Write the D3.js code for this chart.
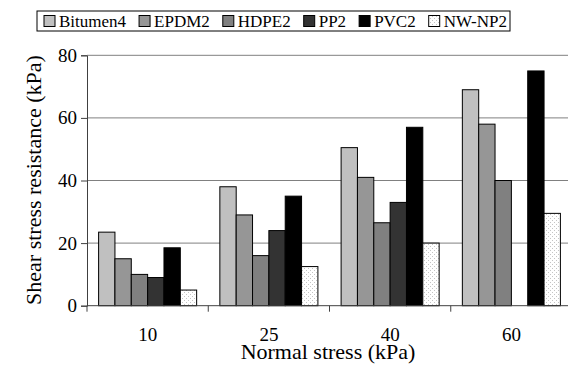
<!DOCTYPE html>
<html>
<head>
<meta charset="utf-8">
<script src="https://cdn.jsdelivr.net/npm/d3@7"></script>
<style>
  body { margin: 0; background: #fff; }
  svg { display: block; font-family: "Liberation Serif", "Times New Roman", serif; }
</style>
</head>
<body>
<svg id="chart" width="568" height="365"></svg>
<script>
// values
var categories = ['10', '25', '40', '60'];
var seriesNames = ['Bitumen4', 'EPDM2', 'HDPE2', 'PP2', 'PVC2', 'NW-NP2'];
var bitumen4 = [23.5, 38, 50.5, 69];
var epdm2 = [15, 29, 41, 58];
var hdpe2 = [10, 16, 26.5, 40];
var pp2 = [9, 24, 33, 0];
var pvc2 = [18.5, 35, 57, 75];
var nwnp2 = [5, 12.5, 20, 29.5];
var yTicks = [0, 20, 40, 60, 80];

var seriesValues = [bitumen4, epdm2, hdpe2, pp2, pvc2, nwnp2];
var fills = ['#c0c0c0', '#969696', '#808080', '#333333', '#000000', 'url(#dots)'];

var svg = d3.select('#chart');

// dotted fill used by NW-NP2
var pat = svg.append('defs').append('pattern')
    .attr('id', 'dots')
    .attr('patternUnits', 'userSpaceOnUse')
    .attr('width', 4)
    .attr('height', 4);
pat.append('rect').attr('width', 4).attr('height', 4).attr('fill', '#fff');
pat.append('rect').attr('x', 0).attr('y', 0).attr('width', 1).attr('height', 1).attr('fill', '#c4c4c4');
pat.append('rect').attr('x', 2).attr('y', 2).attr('width', 1).attr('height', 1).attr('fill', '#c4c4c4');

// plot box (right edge runs a little past the window, as in the reference)
var plotLeft = 87, plotRight = 572, plotTop = 55.3, plotBottom = 305.7;

var x = d3.scaleBand()
    .domain(categories)
    .range([plotLeft, plotRight])
    .padding(0);

var xSub = d3.scaleBand()
    .domain(seriesNames)
    .range([0, x.bandwidth()])
    .paddingInner(0)
    .paddingOuter(0.71);

var y = d3.scaleLinear()
    .domain([0, 80])
    .range([plotBottom, plotTop]);

// gridlines
svg.append('g')
    .selectAll('line')
    .data(yTicks.filter(function(d) { return d > 0; }))
  .enter().append('line')
    .attr('x1', plotLeft)
    .attr('x2', 568)
    .attr('y1', function(d) { return y(d); })
    .attr('y2', function(d) { return y(d); })
    .attr('stroke', '#808080')
    .attr('stroke-width', 1);

// bars
var groups = svg.append('g')
    .selectAll('g')
    .data(seriesNames)
  .enter().append('g')
    .attr('fill', function(d, i) { return fills[i]; });

groups.selectAll('rect')
    .data(function(d, i) {
      return seriesValues[i]
          .map(function(v, j) { return {s: d, c: categories[j], v: v}; })
          .filter(function(p) { return p.v > 0; });
    })
  .enter().append('rect')
    .attr('x', function(d) { return x(d.c) + xSub(d.s); })
    .attr('width', xSub.bandwidth())
    .attr('y', function(d) { return y(d.v); })
    .attr('height', function(d) { return y(0) - y(d.v); })
    .attr('stroke', '#000')
    .attr('stroke-width', 1);

// y axis
var yAxis = svg.append('g')
    .attr('transform', 'translate(' + plotLeft + ',0)')
    .call(d3.axisLeft(y).tickValues(yTicks).tickSize(6).tickPadding(4));
yAxis.select('.domain').attr('stroke', '#404040');
yAxis.selectAll('.tick line').attr('stroke', '#404040');
yAxis.selectAll('text')
    .attr('font-size', 19)
    .attr('font-family', '"Liberation Serif", serif')
    .attr('fill', '#000');

// x axis: ticks sit on category boundaries
var xAxis = svg.append('g')
    .attr('transform', 'translate(0,' + plotBottom + ')');
xAxis.append('line')
    .attr('x1', plotLeft).attr('x2', 568)
    .attr('y1', 0).attr('y2', 0)
    .attr('stroke', '#404040');
xAxis.selectAll('line.tk')
    .data(categories)
  .enter().append('line')
    .attr('class', 'tk')
    .attr('x1', function(d) { return x(d); })
    .attr('x2', function(d) { return x(d); })
    .attr('y1', 0).attr('y2', 6)
    .attr('stroke', '#404040');
xAxis.selectAll('text')
    .data(categories)
  .enter().append('text')
    .attr('x', function(d) { return x(d) + x.bandwidth() / 2; })
    .attr('y', 35)
    .attr('text-anchor', 'middle')
    .attr('font-size', 19)
    .text(function(d) { return d; });

// axis titles
svg.append('text')
    .attr('x', 328)
    .attr('y', 359)
    .attr('text-anchor', 'middle')
    .attr('font-size', 22)
    .text('Normal stress (kPa)');

svg.append('text')
    .attr('transform', 'translate(41,180) rotate(-90)')
    .attr('text-anchor', 'middle')
    .attr('font-size', 22)
    .text('Shear stress resistance (kPa)');

// legend
var legend = svg.append('g');
legend.append('rect')
    .attr('x', 37).attr('y', 11)
    .attr('width', 473).attr('height', 20)
    .attr('fill', '#fff')
    .attr('stroke', '#000');

var lx = 44;
seriesNames.forEach(function(name, i) {
  legend.append('rect')
      .attr('x', lx).attr('y', 15.5)
      .attr('width', 11).attr('height', 11)
      .attr('fill', fills[i])
      .attr('stroke', '#000');
  var t = legend.append('text')
      .attr('x', lx + 15)
      .attr('y', 27)
      .attr('font-size', 17)
      .text(name);
  lx += 15 + t.node().getComputedTextLength() + 13;
});
</script>
</body>
</html>
